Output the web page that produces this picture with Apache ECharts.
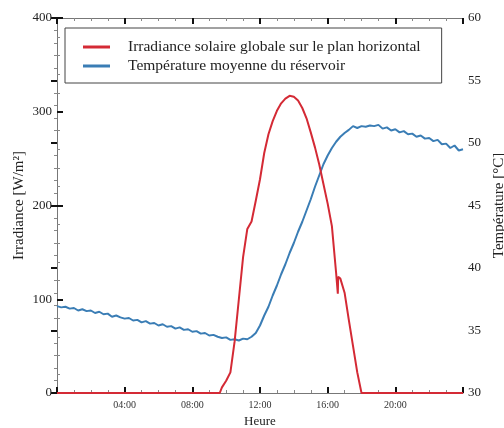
<!DOCTYPE html>
<html>
<head>
<meta charset="utf-8">
<script src="https://cdn.jsdelivr.net/npm/echarts@6/dist/echarts.min.js"></script>
<style>
html,body{margin:0;padding:0;background:#fff;}
#c{width:504px;height:428px;}
</style>
</head>
<body>
<div id="c"></div>
<script>
// Irradiance (W/m²) vs hour of day
var irrHours = [0, 9.5, 9.62, 9.75, 10.0, 10.25, 10.5, 10.75, 11.0, 11.25, 11.5, 11.75, 12.0, 12.25, 12.5, 12.75, 13.0, 13.25, 13.5, 13.75, 14.0, 14.25, 14.5, 14.75, 15.0, 15.25, 15.5, 15.75, 16.0, 16.25, 16.5, 16.6, 16.62, 16.75, 17.0, 17.25, 17.5, 17.75, 18.0, 24];
var irrValues = [0, 0, 0, 6, 13, 22, 55, 100, 145, 175, 183, 205, 228, 256, 276, 290, 301, 309, 314, 317, 316, 312, 304, 293, 278, 262, 244, 223, 202, 178, 128, 106, 124, 122, 107, 78, 50, 22, 0, 0];

// Mean tank temperature (°C), every 15 min
var tempHours = [];
for (var h = 0; h <= 96; h++) tempHours.push(h / 4);
var tempValues = [
36.95,36.85,36.9,36.75,36.8,36.6,36.7,36.55,36.6,36.4,36.5,36.3,36.35,36.1,36.2,36.05,
35.95,36.0,35.8,35.85,35.65,35.75,35.55,35.6,35.4,35.5,35.3,35.35,35.15,35.25,35.05,35.1,
34.9,34.95,34.75,34.8,34.6,34.65,34.5,34.4,34.45,34.25,34.3,34.2,34.35,34.3,34.5,34.8,
35.4,36.2,36.9,37.8,38.6,39.5,40.3,41.2,42.0,42.9,43.7,44.6,45.5,46.5,47.4,48.3,
49.0,49.6,50.1,50.5,50.8,51.05,51.35,51.2,51.35,51.3,51.4,51.35,51.45,51.15,51.25,51.0,
51.1,50.85,50.95,50.7,50.75,50.5,50.6,50.35,50.4,50.15,50.25,49.9,49.95,49.6,49.8,49.4,49.5];

var xTicks = ['04:00','08:00','12:00','16:00','20:00'];
var seriesNames = ['Irradiance solaire globale sur le plan horizontal', 'Température moyenne du réservoir'];

function zip(a, b) { return a.map(function (v, i) { return [v, b[i]]; }); }

var serif = 'Liberation Serif';
var chart = echarts.init(document.getElementById('c'), null, {renderer: 'canvas'});

function xAxisDef(pos, showLabel) {
  return {
    type: 'value', position: pos, min: 0, max: 24, interval: 4,
    axisLine: {show: true, onZero: false, lineStyle: {color: '#777', width: 1}},
    axisTick: {show: true, inside: true, length: 6, lineStyle: {color: '#111', width: 2}},
    minorTick: {show: true, splitNumber: 4, length: 3, lineStyle: {color: '#888', width: 1}},
    splitLine: {show: false},
    axisLabel: {
      show: showLabel, margin: 7, fontFamily: serif, fontSize: 10, color: '#333',
      formatter: function (v) { var i = v / 4 - 1; return (i >= 0 && i < xTicks.length && v % 4 === 0) ? xTicks[i] : ''; }
    },
    name: showLabel ? 'Heure' : '', nameLocation: 'middle', nameGap: 22,
    nameTextStyle: {fontFamily: serif, fontSize: 13, color: '#222'}
  };
}

chart.setOption({
  animation: false,
  backgroundColor: '#fff',
  grid: {left: 57, right: 41, top: 18, bottom: 35, containLabel: false, outerBoundsMode: 'none'},
  legend: {
    orient: 'vertical', left: 65, top: 28,
    padding: [11, 21, 9, 18], itemGap: 3,
    icon: 'rect', itemWidth: 27, itemHeight: 3,
    borderColor: '#444', borderWidth: 1, backgroundColor: '#fff',
    textStyle: {fontFamily: serif, fontSize: 15.5, lineHeight: 15, color: '#222', padding: [0, 0, 0, 13]},
    data: seriesNames
  },
  xAxis: [xAxisDef('bottom', true), xAxisDef('top', false)],
  yAxis: [{
    type: 'value', position: 'left', min: 0, max: 400, interval: 100,
    axisLine: {show: true, lineStyle: {color: '#777', width: 1}},
    axisTick: {show: true, inside: true, length: 6, lineStyle: {color: '#111', width: 2}},
    minorTick: {show: true, splitNumber: 5, length: 3, lineStyle: {color: '#888', width: 1}},
    splitLine: {show: false},
    axisLabel: {margin: 5, fontFamily: serif, fontSize: 13, color: '#222'},
    name: 'Irradiance [W/m²]', nameLocation: 'middle', nameGap: 30, nameRotate: 90,
    nameMoveOverlap: false,
    nameTextStyle: {fontFamily: serif, fontSize: 15, color: '#222'}
  }, {
    type: 'value', position: 'right', min: 30, max: 60, interval: 5,
    axisLine: {show: true, lineStyle: {color: '#777', width: 1}},
    axisTick: {show: true, inside: true, length: 6, lineStyle: {color: '#111', width: 2}},
    minorTick: {show: true, splitNumber: 5, length: 3, lineStyle: {color: '#888', width: 1}},
    splitLine: {show: false},
    axisLabel: {margin: 5, fontFamily: serif, fontSize: 13, color: '#222'},
    name: 'Température [°C]', nameLocation: 'middle', nameGap: 28, nameRotate: 90,
    nameTextStyle: {fontFamily: serif, fontSize: 15, color: '#222'}
  }],
  series: [{
    name: seriesNames[0], type: 'line', xAxisIndex: 0, yAxisIndex: 0,
    data: zip(irrHours, irrValues), showSymbol: false, symbol: 'none',
    lineStyle: {color: '#d42a35', width: 2}, itemStyle: {color: '#d42a35'}, z: 3
  }, {
    name: seriesNames[1], type: 'line', xAxisIndex: 0, yAxisIndex: 1,
    data: zip(tempHours, tempValues), showSymbol: false, symbol: 'none',
    lineStyle: {color: '#3a7db5', width: 2}, itemStyle: {color: '#3a7db5'}, z: 2
  }]
});
</script>
</body>
</html>
